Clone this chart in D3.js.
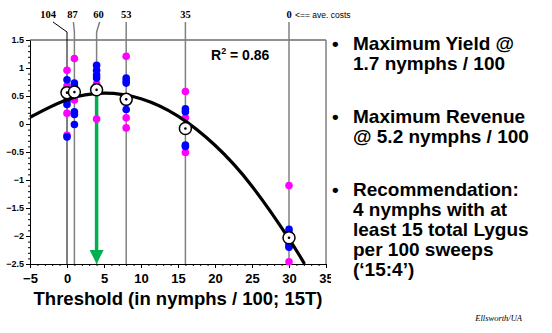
<!DOCTYPE html>
<html>
<head>
<meta charset="utf-8">
<script src="https://cdn.jsdelivr.net/npm/d3@7"></script>
<style>
  body { margin: 0; background: #fff; }
  svg { display: block; }
  text { font-family: "Liberation Sans", Arial, sans-serif; }
</style>
</head>
<body>
<figure style="margin:0"></figure>
<script>
// thresholds (nymphs / 100) and number of sprays at each
const thresholds = [0, 1, 4, 8, 16, 30];
const sprayCounts = ["104", "87", "60", "53", "35", "0"];

// yield values per threshold, by year/field colour
const magentaPts = [
  [0.96, 0.68, 0.19, -0.2],
  [1.17, 0.43],
  [0.72, 0.09],
  [1.21, 0.11, -0.07],
  [0.58, 0.11, -0.51],
  [-1.10, -2.18, -2.46]
];
const bluePts = [
  [0.79, 0.42, 0.35, -0.23],
  [0.73, 0.68, 0.22, 0.17, -0.01],
  [1.05, 0.96, 0.875, 0.82],
  [0.82, 0.77, 0.73, 0.26],
  [0.27, 0.22, -0.375, -0.40],
  [-1.88, -1.94, -2.15, -2.2]
];
const meanPts = [0.56, 0.57, 0.61, 0.44, -0.08, -2.03];

// fitted curve
const fitX = [-5, 0, 5, 10, 15, 20, 25, 30, 32.1];
const fitY = [0.12, 0.435, 0.55, 0.45, 0.14, -0.38, -1.11, -2.05, -2.5];

const recommendX = 4;
const r2Text = "0.86";

const notes = [
  ["Maximum Yield @", "1.7 nymphs / 100"],
  ["Maximum Revenue", "@ 5.2 nymphs / 100"],
  ["Recommendation:", "4 nymphs with at", "least 15 total Lygus", "per 100 sweeps", "(\u201815:4\u2019)"]
];

const width = 552, height = 333;
const svg = d3.select("figure").append("svg")
  .attr("width", width).attr("height", height);

const x = d3.scaleLinear().domain([-5, 35]).range([30, 326]);
const y = d3.scaleLinear().domain([-2.5, 1.5]).range([264, 40]);

// frame top + right
svg.append("line").attr("x1", x(-5)).attr("x2", x(35)).attr("y1", y(1.5)).attr("y2", y(1.5))
  .attr("stroke", "#222").attr("stroke-width", 1);
svg.append("line").attr("x1", x(35)).attr("x2", x(35)).attr("y1", y(1.5)).attr("y2", y(-2.5))
  .attr("stroke", "#808080").attr("stroke-width", 1.5);

// label offsets (px) for the leader lines
const labelDx = [-19, -2, 2, 0, 0, 0];
thresholds.forEach((t, i) => {
  const px = x(t);
  const lx = px + labelDx[i];
  const col = i == 0 ? "#000" : "#808080";
  const sw = i == 0 ? 1 : 1.5;
  let pts;
  if (labelDx[i] != 0) {
    pts = [[lx + (i == 0 ? 5 : 1), 22], [px, 32], [px, y(-2.5)]];
  } else {
    pts = [[px, 22], [px, y(-2.5)]];
  }
  svg.append("path").attr("d", d3.line()(pts))
    .attr("fill", "none").attr("stroke", col).attr("stroke-width", sw);
  svg.append("text").attr("x", lx).attr("y", 18)
    .attr("text-anchor", "middle")
    .style("font-family", "'Liberation Serif', 'Times New Roman', serif")
    .style("font-weight", "bold").style("font-size", "10.5px")
    .text(sprayCounts[i]);
});
svg.append("text").attr("x", x(30) + 6).attr("y", 18)
  .style("font-size", "8.5px").text("<== ave. costs");

// axes
const yMajor = d3.range(-2.5, 1.51, 0.5);
const yMinor = d3.range(-25, 16, 1).map(d => d / 10);
svg.append("g").attr("transform", "translate(" + x(-5) + ",0)")
  .call(d3.axisLeft(y).tickValues(yMinor).tickSize(2).tickFormat(""))
  .call(g => g.select(".domain").remove());
svg.append("g").attr("class", "yAxis").attr("transform", "translate(" + x(-5) + ",0)")
  .call(d3.axisLeft(y).tickValues(yMajor).tickSize(4).tickSizeOuter(0).tickPadding(2)
    .tickFormat(d => d3.format("")(+d.toFixed(1))))
  .call(g => g.selectAll("text").style("font-weight", "bold").style("font-size", "9px")
    .style("font-family", "'Liberation Sans', Arial, sans-serif"));

const xMajor = d3.range(-5, 36, 5);
const xMinor = d3.range(-5, 36, 1);
svg.append("g").attr("transform", "translate(0," + y(-2.5) + ")")
  .call(d3.axisBottom(x).tickValues(xMinor).tickSize(2).tickFormat(""))
  .call(g => g.select(".domain").remove());
svg.append("g").attr("class", "xAxis").attr("transform", "translate(0," + y(-2.5) + ")")
  .call(d3.axisBottom(x).tickValues(xMajor).tickSize(4).tickSizeOuter(0).tickPadding(6))
  .call(g => g.selectAll("text").style("font-weight", "bold").style("font-size", "13px")
    .style("font-family", "'Liberation Sans', Arial, sans-serif"));
svg.selectAll(".domain").attr("stroke", "#000");

// axis title
svg.append("text").attr("x", 178).attr("y", 305)
  .attr("text-anchor", "middle")
  .style("font-weight", "bold").style("font-size", "18.5px")
  .text("Threshold (in nymphs / 100; 15T)");

// recommendation arrow
const green = "#00b050";
svg.append("line").attr("x1", x(recommendX)).attr("x2", x(recommendX))
  .attr("y1", y(meanPts[2]) + 6).attr("y2", y(-2.5) - 12)
  .attr("stroke", green).attr("stroke-width", 3.5);
svg.append("path")
  .attr("d", d3.line()([[x(recommendX) - 7, y(-2.5) - 14], [x(recommendX) + 7, y(-2.5) - 14], [x(recommendX), y(-2.5)]]) + "Z")
  .attr("fill", green);

// data points
function dots(data, color) {
  data.forEach((vals, i) => {
    svg.selectAll(null).data(vals).enter().append("circle")
      .attr("cx", x(thresholds[i]))
      .attr("cy", d => y(d))
      .attr("r", 3.8)
      .attr("fill", color);
  });
}
dots(magentaPts, "#ff00ff");
dots(bluePts, "#0000ff");

// fitted curve
svg.append("path")
  .datum(fitX.map((d, i) => [d, fitY[i]]))
  .attr("d", d3.line().x(d => x(d[0])).y(d => y(d[1])).curve(d3.curveNatural))
  .attr("fill", "none").attr("stroke", "#000").attr("stroke-width", 3.2);

// means
svg.selectAll("circle.mean").data(meanPts).enter().append("circle")
  .attr("class", "mean")
  .attr("cx", (d, i) => x(thresholds[i])).attr("cy", d => y(d))
  .attr("r", 6).attr("fill", "#fff").attr("stroke", "#000").attr("stroke-width", 1.5);
svg.selectAll("circle.meanc").data(meanPts).enter().append("circle")
  .attr("class", "meanc")
  .attr("cx", (d, i) => x(thresholds[i])).attr("cy", d => y(d))
  .attr("r", 1.3).attr("fill", "#000");

// R squared
const r2 = svg.append("text").attr("x", 211).attr("y", 60)
  .style("font-weight", "bold").style("font-size", "14px");
r2.append("tspan").text("R");
r2.append("tspan").attr("dy", -6).style("font-size", "9px").text("2");
r2.append("tspan").attr("dy", 6).text(" = " + r2Text);

// text panel
svg.append("rect").attr("x", 331).attr("y", 28).attr("width", 221).attr("height", 262).attr("fill", "#fff");
const lineY = [[50, 70], [123, 143], [196, 216, 236, 256, 276]];
notes.forEach((lines, i) => {
  svg.append("text").attr("x", 332).attr("y", lineY[i][0])
    .style("font-weight", "bold").style("font-size", "19px").text("\u2022");
  lines.forEach((s, j) => {
    svg.append("text").attr("x", 353).attr("y", lineY[i][j])
      .style("font-weight", "bold").style("font-size", "19px").text(s);
  });
});

svg.append("text").attr("x", 522).attr("y", 321).attr("text-anchor", "end")
  .style("font-family", "'Liberation Serif', 'Times New Roman', serif")
  .style("font-style", "italic").style("font-size", "8.5px")
  .text("Ellsworth/UA");
</script>
</body>
</html>
